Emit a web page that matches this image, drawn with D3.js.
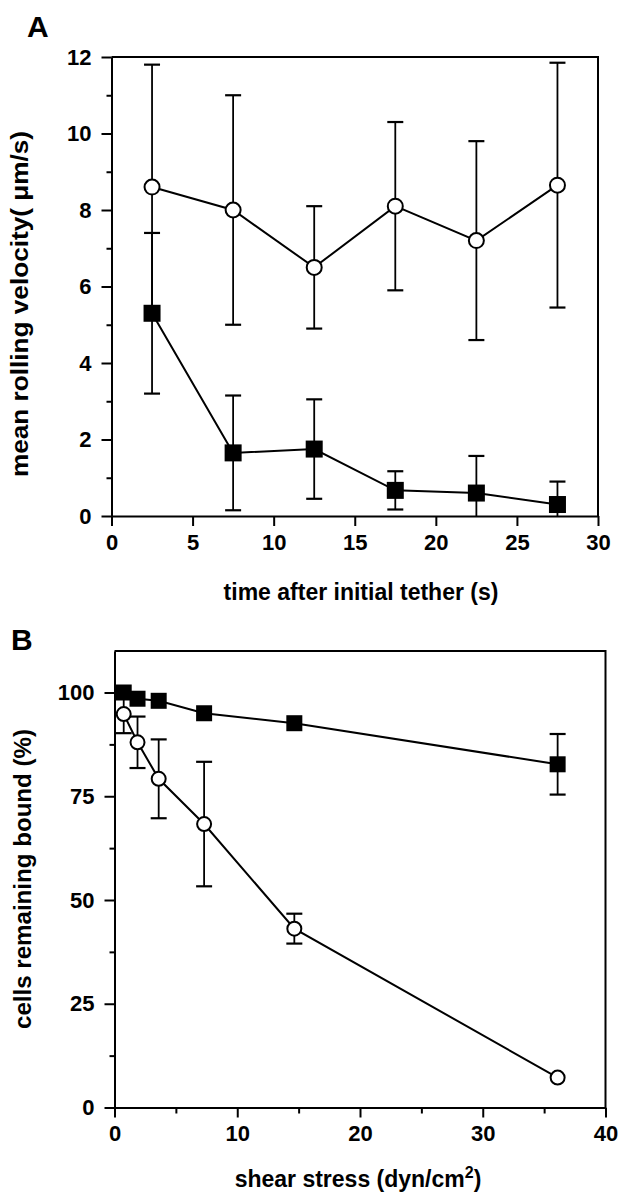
<!DOCTYPE html>
<html><head><meta charset="utf-8">
<script src="https://cdn.jsdelivr.net/npm/d3@7"></script>
<style>
html,body{margin:0;padding:0;background:#fff;}
svg{display:block;}
text{font-family:"Liberation Sans",Arial,Helvetica,sans-serif;font-weight:bold;fill:#000;}
</style></head>
<body>
<svg id="chart" width="618" height="1192"></svg>
<script>
// ---------- Panel A data ----------
const timeA = [2.5, 7.5, 12.5, 17.5, 22.5, 27.5];
const openA = [8.6, 8.0, 6.5, 8.1, 7.2, 8.65];
const openAErr = [3.2, 3.0, 1.6, 2.2, 2.6, 3.2];
const filledA = [5.3, 1.65, 1.75, 0.67, 0.6, 0.3];
const filledAErr = [2.1, 1.5, 1.3, 0.5, 0.97, 0.6];
const xTicksA = [0, 5, 10, 15, 20, 25, 30];
const yTicksA = [0, 2, 4, 6, 8, 10, 12];
const yMinorA = [1, 3, 5, 7, 9, 11];

// ---------- Panel B data ----------
const shearB = [0.75, 1.875, 3.6, 7.3, 14.65, 36.1];
const openB = [94.8, 88.0, 79.2, 68.3, 43.1, 7.2];
const openBErr = [4.6, 6.2, 9.5, 15, 3.6, 0];
const filledB = [100, 98.5, 98.0, 95.0, 92.6, 82.7];
const filledBErr = [0, 0, 0, 0, 0, 7.3];
const xTicksB = [0, 10, 20, 30, 40];
const xMinorB = [5, 15, 25, 35];
const yTicksB = [0, 25, 50, 75, 100];
const yMinorB = [12.5, 37.5, 62.5, 87.5];

const svg = d3.select("#chart");

function panel(cfg) {
  const g = svg.append("g");
  const x = d3.scaleLinear().domain(cfg.xDomain).range([cfg.left, cfg.right]);
  const y = d3.scaleLinear().domain(cfg.yDomain).range([cfg.bottom, cfg.top]);

  // box (top & right)
  g.append("path")
    .attr("d", `M${cfg.left},${cfg.top}H${cfg.right}V${cfg.bottom}`)
    .attr("fill", "none").attr("stroke", "#000").attr("stroke-width", 2);

  // minor ticks
  if (cfg.yMinor) {
    g.append("g").attr("transform", `translate(${cfg.left},0)`)
      .call(d3.axisLeft(y).tickValues(cfg.yMinor).tickSize(5).tickFormat(""))
      .call(s => s.select(".domain").remove())
      .call(s => s.selectAll("line").attr("stroke-width", 2));
  }
  if (cfg.xMinor) {
    g.append("g").attr("transform", `translate(0,${cfg.bottom})`)
      .call(d3.axisBottom(x).tickValues(cfg.xMinor).tickSize(6).tickFormat(""))
      .call(s => s.select(".domain").remove())
      .call(s => s.selectAll("line").attr("stroke-width", 2));
  }
  // major axes
  const ya = g.append("g").attr("transform", `translate(${cfg.left},0)`)
    .call(d3.axisLeft(y).tickValues(cfg.yTicks).tickSize(10).tickSizeOuter(0).tickPadding(10).tickFormat(d3.format("d")));
  const xa = g.append("g").attr("transform", `translate(0,${cfg.bottom})`)
    .call(d3.axisBottom(x).tickValues(cfg.xTicks).tickSize(10).tickSizeOuter(0).tickPadding(8).tickFormat(d3.format("d")));
  [ya, xa].forEach(a => {
    a.select(".domain").attr("stroke-width", 2);
    a.selectAll("line").attr("stroke-width", 2);
    a.selectAll("text").attr("font-size", 22).attr("font-family", null).attr("fill", "#000");
  });

  const errCap = 8;
  function errBars(xs, ys, es) {
    const data = xs.map((d, i) => ({x: d, y: ys[i], e: es[i]})).filter(d => d.e > 0);
    const eg = g.append("g").attr("stroke", "#000").attr("fill", "none");
    data.forEach(d => {
      const hi = d.y + d.e, lo = Math.max(cfg.yDomain[0], d.y - d.e);
      const cx = x(d.x);
      eg.append("line").attr("x1", cx).attr("x2", cx).attr("y1", y(hi)).attr("y2", y(lo)).attr("stroke-width", 1.8);
      eg.append("line").attr("x1", cx - errCap).attr("x2", cx + errCap).attr("y1", y(hi)).attr("y2", y(hi)).attr("stroke-width", 2.2);
      if (d.y - d.e > cfg.yDomain[0]) {
        eg.append("line").attr("x1", cx - errCap).attr("x2", cx + errCap).attr("y1", y(lo)).attr("y2", y(lo)).attr("stroke-width", 2.2);
      }
    });
  }
  errBars(cfg.xs, cfg.open, cfg.openErr);
  errBars(cfg.xs, cfg.filled, cfg.filledErr);

  const line = d3.line().x((d, i) => x(cfg.xs[i])).y(d => y(d));
  g.append("path").attr("d", line(cfg.open)).attr("fill", "none").attr("stroke", "#000").attr("stroke-width", 2);
  g.append("path").attr("d", line(cfg.filled)).attr("fill", "none").attr("stroke", "#000").attr("stroke-width", 2);

  const s = cfg.sq;
  g.append("g").selectAll("rect").data(cfg.filled).join("rect")
    .attr("x", (d, i) => x(cfg.xs[i]) - s / 2).attr("y", d => y(d) - s / 2)
    .attr("width", s).attr("height", s).attr("fill", "#000");
  g.append("g").selectAll("circle").data(cfg.open).join("circle")
    .attr("cx", (d, i) => x(cfg.xs[i])).attr("cy", d => y(d)).attr("r", cfg.r)
    .attr("fill", "#fff").attr("stroke", "#000").attr("stroke-width", 2);

  // titles
  g.append("text").attr("x", cfg.xTitleX).attr("y", cfg.xTitleY).attr("text-anchor", "middle")
    .attr("font-size", 23).html(cfg.xTitle);
  g.append("text").attr("transform", `translate(${cfg.yTitleX},${cfg.yTitleY}) rotate(-90)`)
    .attr("text-anchor", "middle").attr("font-size", 23)
    .attr("textLength", cfg.yTitleLen).attr("lengthAdjust", "spacingAndGlyphs").text(cfg.yTitle);
  g.append("text").attr("x", cfg.labX).attr("y", cfg.labY).attr("font-size", 30)
    .attr("font-family", "'DejaVu Sans','Liberation Sans',sans-serif").text(cfg.label);
}

panel({
  left: 111.5, right: 598, top: 57, bottom: 516,
  xDomain: [0, 30], yDomain: [0, 12],
  xTicks: xTicksA, yTicks: yTicksA, yMinor: yMinorA,
  xs: timeA, open: openA, openErr: openAErr, filled: filledA, filledErr: filledAErr,
  sq: 17, r: 7.5,
  xTitle: "time after initial tether (s)", xTitleX: 361, xTitleY: 600,
  yTitle: "mean rolling velocity( \u03bcm/s)", yTitleX: 28, yTitleY: 304, yTitleLen: 346,
  label: "A", labX: 27, labY: 37
});

panel({
  left: 114.5, right: 605.5, top: 651, bottom: 1107.5,
  xDomain: [0, 40], yDomain: [0, 110],
  xTicks: xTicksB, yTicks: yTicksB, yMinor: yMinorB, xMinor: xMinorB,
  xs: shearB, open: openB, openErr: openBErr, filled: filledB, filledErr: filledBErr,
  sq: 16, r: 7,
  xTitle: "shear stress (dyn/cm<tspan font-size='16' dy='-9'>2</tspan><tspan dy='9'>)</tspan>", xTitleX: 358, xTitleY: 1187,
  yTitle: "cells remaining bound (%)", yTitleX: 31, yTitleY: 879, yTitleLen: 300,
  label: "B", labX: 11, labY: 650
});
</script>
</body></html>
